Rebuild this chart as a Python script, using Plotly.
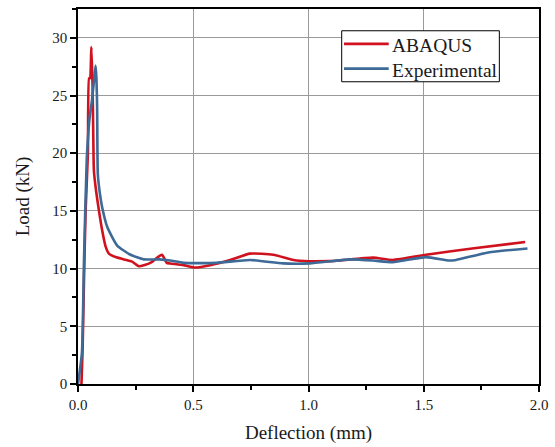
import plotly.graph_objects as go

# ABAQUS simulation: deflection (mm) vs load (kN)
abaqus_x = [0.015, 0.020, 0.026, 0.033, 0.043, 0.048, 0.052, 0.058, 0.063, 0.066,
            0.069, 0.078, 0.091, 0.105, 0.120, 0.134, 0.163, 0.200, 0.235, 0.264,
            0.314, 0.354, 0.365, 0.385, 0.400, 0.458, 0.508, 0.573, 0.660, 0.746,
            0.847, 0.948, 1.090, 1.135, 1.280, 1.365, 1.510, 1.710, 1.940]
abaqus_y = [0.0, 3.0, 9.0, 15.0, 20.0, 26.5, 26.5, 29.2, 26.0, 22.0,
            18.5, 16.8, 15.0, 13.3, 11.9, 11.3, 11.0, 10.8, 10.6, 10.2,
            10.5, 11.1, 11.2, 10.5, 10.45, 10.3, 10.1, 10.3, 10.75, 11.3,
            11.2, 10.7, 10.65, 10.7, 10.95, 10.75, 11.2, 11.75, 12.3]

# Experimental test: deflection (mm) vs load (kN)
exp_x = [0.0, 0.017, 0.026, 0.038, 0.050, 0.060, 0.068, 0.076, 0.080, 0.083,
         0.086, 0.095, 0.105, 0.127, 0.170, 0.228, 0.285, 0.354, 0.400, 0.458,
         0.600, 0.746, 0.890, 1.005, 1.180, 1.280, 1.365, 1.510, 1.610, 1.640,
         1.780, 1.950]
exp_y = [0.0, 2.7, 10.7, 19.5, 23.0, 24.5, 26.0, 27.6, 26.5, 24.0,
         18.2, 16.5, 15.3, 13.6, 12.0, 11.2, 10.8, 10.8, 10.7, 10.5,
         10.5, 10.75, 10.45, 10.45, 10.8, 10.7, 10.55, 11.0, 10.7, 10.75,
         11.4, 11.75]

series_names = ["ABAQUS", "Experimental"]
series_colors = ["#d0121e", "#3d6a96"]

x_ticks = [0.0, 0.5, 1.0, 1.5, 2.0]
x_tick_labels = ["0.0", "0.5", "1.0", "1.5", "2.0"]
y_ticks = [0, 5, 10, 15, 20, 25, 30]

FONT = "Liberation Serif"
TEXT = "#1a1a1a"

fig = go.Figure()
for xs, ys, name, color in zip([abaqus_x, exp_x], [abaqus_y, exp_y],
                               series_names, series_colors):
    fig.add_trace(go.Scatter(x=xs, y=ys, mode="lines", name=name,
                             line=dict(color=color, width=2.6,
                                       shape="spline", smoothing=0.5)))

axis_common = dict(
    showline=True, linecolor="black", linewidth=1.5, mirror=True,
    showgrid=True, gridcolor="#9a9a9a", gridwidth=1,
    ticks="outside", ticklen=6, tickwidth=1.5, tickcolor="black",
    zeroline=False,
    tickfont=dict(family=FONT, size=15, color=TEXT),
)

fig.update_xaxes(range=[0, 2.0], tickvals=x_ticks, ticktext=x_tick_labels,
                 minor=dict(ticks="outside", ticklen=4, tickwidth=1.5,
                            tickcolor="black", dtick=0.25, tick0=0, showgrid=False),
                 title=dict(text="Deflection (mm)", font=dict(family=FONT, size=19, color=TEXT),
                            standoff=14),
                 **axis_common)
fig.update_yaxes(range=[0, 32.5], tickvals=y_ticks,
                 minor=dict(ticks="outside", ticklen=4, tickwidth=1.5,
                            tickcolor="black", dtick=2.5, tick0=0, showgrid=False),
                 title=dict(text="Load (kN)", font=dict(family=FONT, size=19, color=TEXT),
                            standoff=18),
                 **axis_common)

# Compact boxed legend in the upper right of the plot area
box_x0, box_x1, box_y0, box_y1 = 0.572, 0.914, 0.806, 0.942
sample_x0, sample_x1, text_x = 0.577, 0.674, 0.676
row_y = [0.907, 0.841]
fig.add_shape(type="rect", xref="paper", yref="paper",
              x0=box_x0, x1=box_x1, y0=box_y0, y1=box_y1,
              line=dict(color="black", width=1), fillcolor="white", layer="above")
for name, color, yy in zip(series_names, series_colors, row_y):
    fig.add_shape(type="line", xref="paper", yref="paper",
                  x0=sample_x0, x1=sample_x1, y0=yy, y1=yy,
                  line=dict(color=color, width=2.6), layer="above")
    fig.add_annotation(xref="paper", yref="paper", x=text_x, y=yy - 0.004,
                       text=name, showarrow=False, xanchor="left", yanchor="middle",
                       font=dict(family=FONT, size=19.5, color=TEXT))

fig.update_layout(
    width=555, height=447,
    margin=dict(l=78, r=14, t=7, b=63),
    plot_bgcolor="white", paper_bgcolor="white",
    font=dict(family=FONT, color=TEXT),
    showlegend=False,
)

fig.write_html("out.html")
